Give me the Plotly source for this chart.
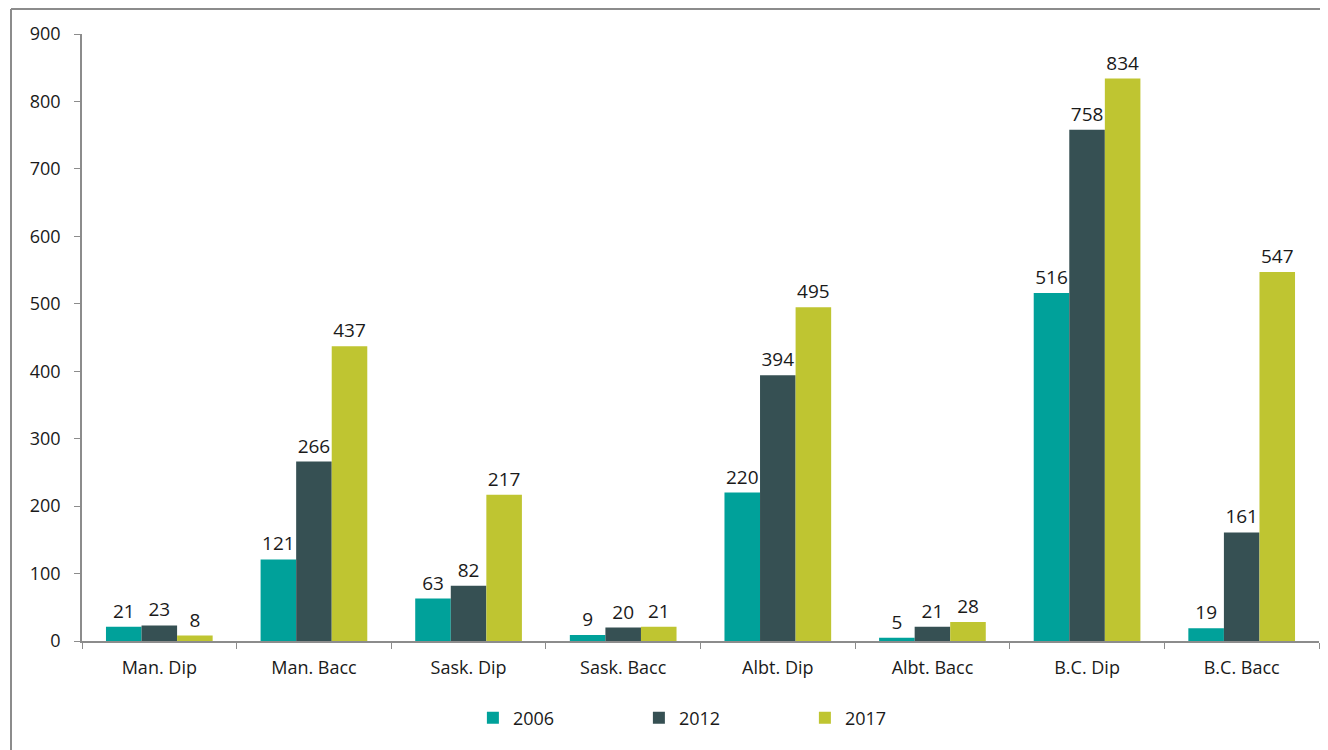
import plotly.graph_objects as go

categories = ["Man. Dip", "Man. Bacc", "Sask. Dip", "Sask. Bacc", "Albt. Dip", "Albt. Bacc", "B.C. Dip", "B.C. Bacc"]
v2006 = [21, 121, 63, 9, 220, 5, 516, 19]
v2012 = [23, 266, 82, 20, 394, 21, 758, 161]
v2017 = [8, 437, 217, 21, 495, 28, 834, 547]
series = [("2006", v2006, "#00A19A"), ("2012", v2012, "#365053"), ("2017", v2017, "#BFC531")]
yticks = [0, 100, 200, 300, 400, 500, 600, 700, 800, 900]

FONT = "Open Sans"
fig = go.Figure()
for name, vals, col in series:
    fig.add_trace(go.Bar(
        x=categories, y=vals, name=name, marker_color=col, marker_line_width=0,
        text=[str(v) for v in vals], textposition="outside", cliponaxis=False,
        textfont=dict(family=FONT, size=19, color="#1a1a1a"),
    ))

fig.update_layout(
    width=1320, height=742,
    paper_bgcolor="white", plot_bgcolor="white",
    margin=dict(l=74, r=9, t=26, b=109),
    barmode="group", bargap=0.31, bargroupgap=0,
    font=dict(family=FONT, size=18, color="#1a1a1a"),
    showlegend=True,
    legend=dict(orientation="h", x=0.316, xanchor="left", y=-0.127, yanchor="middle",
                entrywidth=121, entrywidthmode="pixels", font=dict(size=18, family=FONT)),
    xaxis=dict(showline=True, linecolor="#8c8c8c", linewidth=1.5, ticks="outside",
               tickson="boundaries", ticklen=6, tickcolor="#8c8c8c", showgrid=False,
               tickfont=dict(size=18), ticklabelstandoff=10),
    yaxis=dict(range=[0, 900], tickvals=yticks, showline=True, linecolor="#8c8c8c", linewidth=1.5,
               ticks="outside", ticklen=6, tickcolor="#8c8c8c", showgrid=False, zeroline=False,
               tickfont=dict(size=18), ticklabelstandoff=10),
)
# chart border (top and left edges visible)
fig.add_shape(type="line", xref="paper", yref="paper", x0=-0.0574, x1=1.02, y0=1.0412, y1=1.0412,
              line=dict(color="#8c8c8c", width=2))
fig.add_shape(type="line", xref="paper", yref="paper", x0=-0.0574, x1=-0.0574, y0=1.0412, y1=-0.2,
              line=dict(color="#8c8c8c", width=2))
fig.write_html("out.html")
